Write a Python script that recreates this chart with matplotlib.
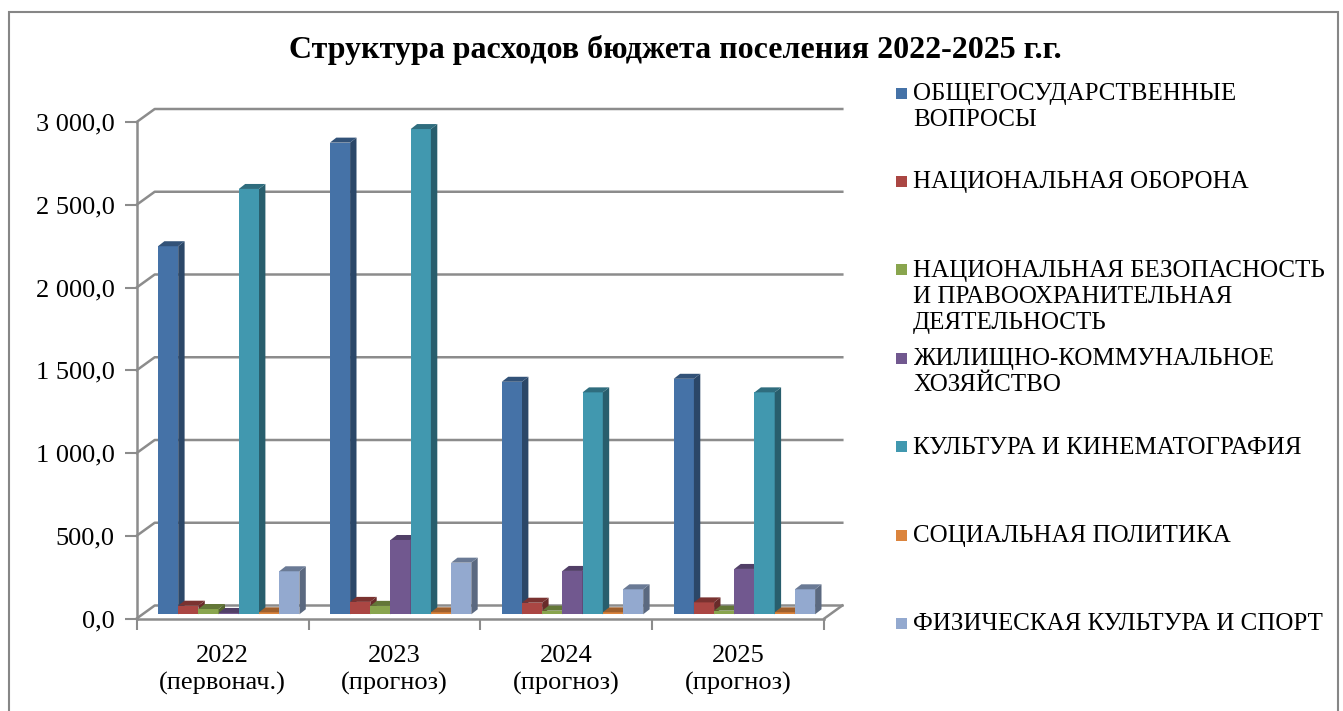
import matplotlib
matplotlib.use('Agg')
import matplotlib.pyplot as plt
from matplotlib.patches import Polygon, Rectangle
import numpy as np

# data
categories = ['2022\n(первонач.)', '2023\n(прогноз)', '2024\n(прогноз)', '2025\n(прогноз)']
labels = ['ОБЩЕГОСУДАРСТВЕННЫЕ\nВОПРОСЫ',
          'НАЦИОНАЛЬНАЯ ОБОРОНА',
          'НАЦИОНАЛЬНАЯ БЕЗОПАСНОСТЬ\nИ ПРАВООХРАНИТЕЛЬНАЯ\nДЕЯТЕЛЬНОСТЬ',
          'ЖИЛИЩНО-КОММУНАЛЬНОЕ\nХОЗЯЙСТВО',
          'КУЛЬТУРА И КИНЕМАТОГРАФИЯ',
          'СОЦИАЛЬНАЯ ПОЛИТИКА',
          'ФИЗИЧЕСКАЯ КУЛЬТУРА И СПОРТ']
general = [2224, 2850, 1405, 1423]
defense = [52, 75, 70, 72]
security = [32, 51, 22, 22]
housing = [8, 449, 262, 274]
culture = [2570, 2932, 1341, 1341]
social = [12, 12, 12, 12]
sport = [260, 312, 151, 151]
series = [general, defense, security, housing, culture, social, sport]
colors = ['#4572a7', '#aa4643', '#89a54e', '#71588f', '#4198af', '#db843d', '#93a9cf']
yticks = [0, 500, 1000, 1500, 2000, 2500, 3000]

plt.rcParams['font.family'] = ['Liberation Serif', 'DejaVu Serif']

W, H = 1343, 711
ax_w, ax_h = 687.6, 496.5
fig = plt.figure(figsize=(W / 100, H / 100), dpi=100)
ax = fig.add_axes([136.7 / W, (H - 618.5) / H, ax_w / W, ax_h / H])
n = len(categories)
ax.set_xlim(0, n)
ax.set_ylim(0, 3000)
ax.patch.set_alpha(0)

# pixel -> data conversion for the fake 3d look
px_x = ax_w / n
px_y = ax_h / 3000


def dx(p):
    return p / px_x


def dy(p):
    return p / px_y


back = (dx(18), dy(13))
plane_y = dy(4.2)
depth = (dx(6.4), dy(5))
gray = '#8c8c8c'

# back wall grid + side wall diagonals
for v in yticks:
    ax.plot([0, back[0], n + back[0]], [v, v + back[1], v + back[1]],
            color=gray, lw=1.8, clip_on=False, zorder=1)
# floor right edge
ax.plot([n, n + back[0]], [0, back[1]], color=gray, lw=1.8, clip_on=False, zorder=1)


def shade(c, f):
    rgb = np.array(matplotlib.colors.to_rgb(c))
    return tuple(rgb * f)


w = dx(20.2)
x_start = dx(21.3)
for j, (vals, col) in enumerate(zip(series, colors)):
    lefts = np.arange(n) + x_start + j * w
    ax.bar(lefts, vals, width=w, bottom=plane_y, align='edge', color=col,
           clip_on=False, zorder=3 + 3 * j, linewidth=0)
    for x0, h in zip(lefts, vals):
        x1 = x0 + w
        b = plane_y
        side = [(x1, b), (x1 + depth[0], b + depth[1]),
                (x1 + depth[0], b + h + depth[1]), (x1, b + h)]
        top = [(x0, b + h), (x1, b + h), (x1 + depth[0], b + h + depth[1]),
               (x0 + depth[0], b + h + depth[1])]
        ax.add_patch(Polygon(side, closed=True, facecolor=shade(col, 0.62),
                             lw=0, clip_on=False, zorder=4 + 3 * j))
        ax.add_patch(Polygon(top, closed=True, facecolor=shade(col, 0.72),
                             lw=0, clip_on=False, zorder=4 + 3 * j))

# axes / ticks
for s in ['top', 'right']:
    ax.spines[s].set_visible(False)
for s in ['left', 'bottom']:
    ax.spines[s].set_color(gray)
    ax.spines[s].set_linewidth(1.8)
ax.set_yticks(yticks)
ax.set_yticklabels([f'{v:,.1f}'.replace(',', ' ').replace('.', ',') for v in yticks],
                   fontsize=19)
ax.tick_params(axis='y', direction='out', length=9, width=1.5, color=gray, pad=7)
ax.set_xticks(np.arange(n + 1))
ax.set_xticklabels([])
ax.set_xticks(np.arange(n) + 0.5, minor=True)
ax.set_xticklabels(categories, minor=True, fontsize=19, linespacing=1.28)
ax.tick_params(axis='x', which='major', direction='out', length=8, width=1.5, color=gray)
ax.tick_params(axis='x', which='minor', length=0, pad=19)

# title
fig.text(675 / W, 1 - 50 / H, 'Структура расходов бюджета поселения 2022-2025 г.г.',
         fontsize=23, fontweight='bold', ha='center', va='center')

# legend drawn by hand (Excel spaces entries evenly)
for k, (lab, col) in enumerate(zip(labels, colors)):
    yc = 93 + k * 88.4
    fig.patches.append(Rectangle((896 / W, 1 - (yc + 5.5) / H), 11 / W, 11 / H,
                                 transform=fig.transFigure, facecolor=col, lw=0))
    fig.text(913 / W, 1 - (yc - 10) / H, lab, fontsize=18, ha='left', va='top',
             linespacing=1.245)

# outer border
fig.patches.append(Rectangle((9 / W, -0.05), (1338 - 9) / W, 1.05 - 12 / H,
                             transform=fig.transFigure, fill=False,
                             edgecolor='#868686', lw=1.5))

fig.savefig('out.png', dpi=100)
